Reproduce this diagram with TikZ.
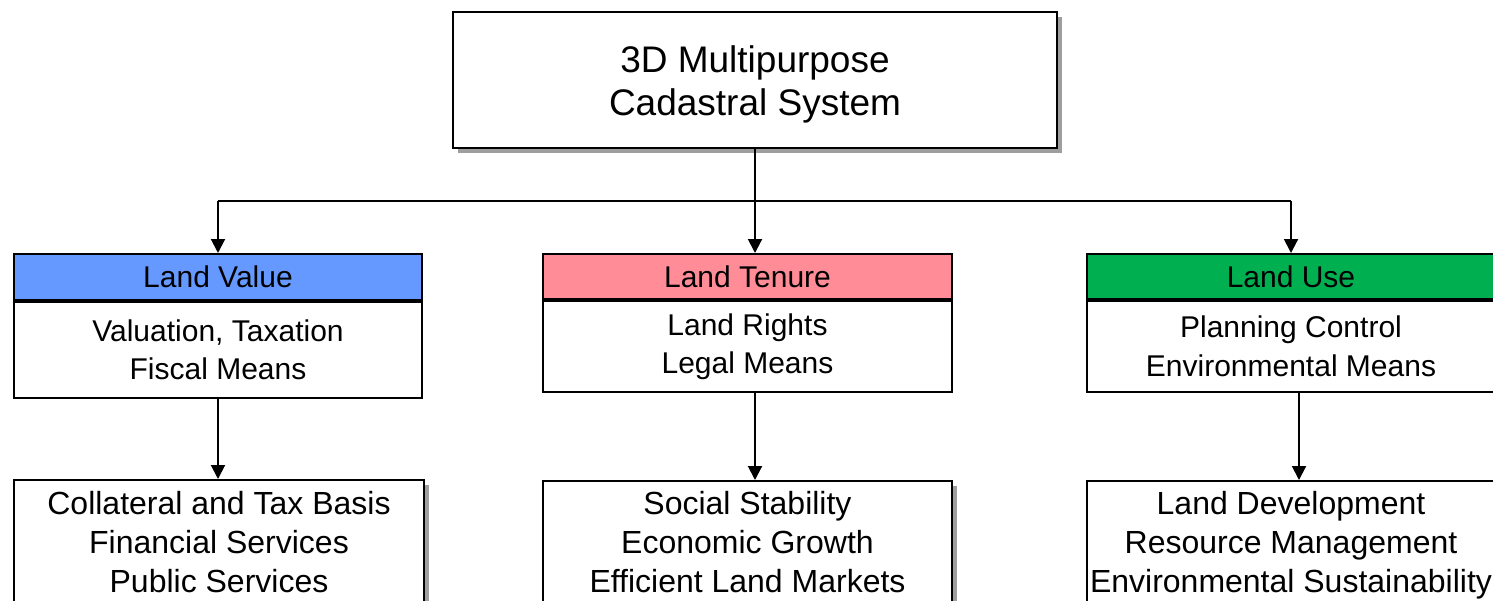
\documentclass[tikz,border=0pt]{standalone}
\usepackage{fontspec}
\setmainfont{Liberation Sans}
\usetikzlibrary{arrows.meta,shadows}
\definecolor{hblue}{HTML}{6699FF}
\definecolor{hpink}{HTML}{FF8C96}
\definecolor{hgreen}{HTML}{00B050}
\definecolor{shadegray}{gray}{0.62}
\begin{document}
\begin{tikzpicture}[x=1pt,y=-1pt,
  box/.style={draw=black,line width=2pt,fill=white,inner sep=0pt,align=center},
  shadowed/.style={drop shadow={shadow xshift=5pt,shadow yshift=-5pt,fill=shadegray,opacity=1}},
  topbox/.style={box,shadowed},
  toptext/.style={inner sep=0pt,align=center,font=\fontsize{37}{43}\selectfont},
  hdr/.style={box,font=\fontsize{30}{38}\selectfont},
  bodybox/.style={box,font=\fontsize{30}{38.5}\selectfont},
  outbox/.style={box,shadowed,font=\fontsize{32}{39}\selectfont},
  conn/.style={line width=2pt,-{Triangle[width=14pt,length=14pt]}},
  plain/.style={line width=2pt}]
\useasboundingbox (0,0) rectangle (1493,600);
% top
\node[topbox,minimum width=604pt,minimum height=136pt] (top) at (755,80) {};
\node[toptext] (toptxt) at (755,84) {3D Multipurpose\\Cadastral System};
% middle row
\node[hdr,fill=hblue,minimum width=408pt,minimum height=46pt] (lvH) at (218,277) {Land Value};
\node[bodybox,minimum width=408pt,minimum height=96pt,anchor=north] (lvB) at (lvH.south) {Valuation, Taxation\\Fiscal Means};
\node[hdr,fill=hpink,minimum width=409pt,minimum height=45pt] (ltH) at (747.5,276.5) {Land Tenure};
\node[bodybox,minimum width=409pt,minimum height=91pt,anchor=north] (ltB) at (ltH.south) {Land Rights\\Legal Means};
\node[hdr,fill=hgreen,minimum width=408pt,minimum height=45pt] (luH) at (1291,276.5) {Land Use};
\node[bodybox,minimum width=408pt,minimum height=91pt,anchor=north] (luB) at (luH.south) {Planning Control\\Environmental Means};
% bottom row
\node[outbox,minimum width=410pt,minimum height=124pt] (lvO) at (219,542) {Collateral and Tax Basis\\Financial Services\\Public Services};
\node[outbox,minimum width=409pt,minimum height=122pt] (ltO) at (747.5,542) {Social Stability\\Economic Growth\\Efficient Land Markets};
\node[outbox,minimum width=408pt,minimum height=128pt] (luO) at (1291,545) {Land Development\\Resource Management\\Environmental Sustainability};
% connectors
\coordinate (junc) at (755,201);
\coordinate (jl) at (junc -| lvH.north);
\coordinate (jr) at (junc -| luH.north);
\coordinate (rx) at (1299,0);
\draw[plain] (top.south -| junc) -- (junc);
\draw[plain] (jl) -- (jr);
\draw[conn] (jl) -- (lvH.north);
\draw[conn] (junc) -- (junc |- ltH.north);
\draw[conn] (jr) -- (luH.north);
\draw[conn] (lvB.south) -- (lvB.south |- lvO.north);
\draw[conn] (junc |- ltB.south) -- (junc |- ltO.north);
\draw[conn] (rx |- luB.south) -- (rx |- luO.north);
\end{tikzpicture}
\end{document}
